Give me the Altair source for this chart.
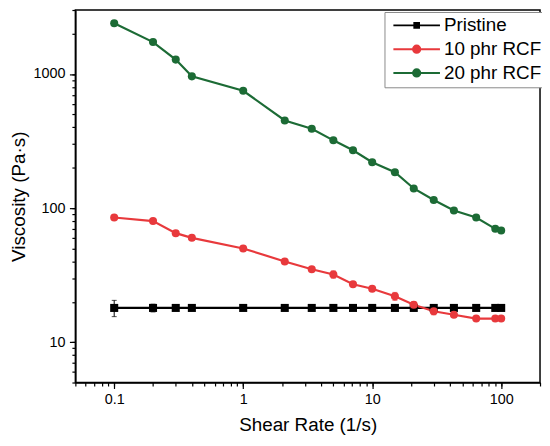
import altair as alt
import pandas as pd

# ---- data ----
shear_rate = [0.1, 0.2, 0.3, 0.4, 1, 2.1, 3.4, 5, 7.1, 10, 15, 21, 30, 43, 64, 90, 100]
pristine = [18, 18, 18, 18, 18, 18, 18, 18, 18, 18, 18, 18, 18, 18, 18, 18, 18]
pristine_err = [2.5, 1.2, 0.5, 0.5, 0.5, 0.5, 0.5, 0.5, 0.5, 0.5, 0.5, 0.5, 0.5, 0.5, 0.5, 0.5, 0.5]
rcf10 = [85, 80, 65, 60, 50, 40, 35, 32, 27, 25, 22, 19, 17, 16, 15, 15, 15]
rcf10_err = [2, 2, 2, 2, 2, 1, 1, 2, 1, 1, 1.5, 1, 1, 0.5, 0.5, 0.5, 0.5]
rcf20 = [2390, 1730, 1280, 960, 750, 450, 390, 320, 270, 220, 185, 140, 115, 96, 85, 70, 68]
rcf20_err = [50, 40, 30, 20, 20, 10, 10, 10, 5, 5, 5, 5, 3, 2, 2, 2, 2]

series_names = ["Pristine", "10 phr RCF", "20 phr RCF"]
series_colors = ["#000000", "#e8393c", "#1c6b35"]

x_major = [0.1, 1, 10, 100]
x_all = [0.05, 0.06, 0.07, 0.08, 0.09, 0.1, 0.2, 0.3, 0.4, 0.5, 0.6, 0.7, 0.8, 0.9,
         1, 2, 3, 4, 5, 6, 7, 8, 9, 10, 20, 30, 40, 50, 60, 70, 80, 90, 100, 200]
y_major = [10, 100, 1000]
y_all = [5, 6, 7, 8, 9, 10, 20, 30, 40, 50, 60, 70, 80, 90,
         100, 200, 300, 400, 500, 600, 700, 800, 900, 1000, 2000, 3000]

rows = []
for name, vals, errs in zip(series_names, [pristine, rcf10, rcf20],
                            [pristine_err, rcf10_err, rcf20_err]):
    for xv, yv, ev in zip(shear_rate, vals, errs):
        rows.append({"x": xv, "y": yv, "lo": yv - ev, "hi": yv + ev, "series": name})
df = pd.DataFrame(rows)

FONT = "Liberation Sans"
Y_TITLE = "Viscosity (Pa·s)"
X_TITLE = "Shear Rate (1/s)"

x_major_js = "[" + ",".join(str(v) for v in x_major) + "]"
y_major_js = "[" + ",".join(str(v) for v in y_major) + "]"

x_scale = alt.Scale(type="log", domain=[0.05, 200], nice=False)
y_scale = alt.Scale(type="log", domain=[5, 3000], nice=False)

# main axes: every tick (short), labels at decades only
x_axis_main = alt.Axis(
    title=X_TITLE, values=x_all, format="~g", orient="bottom",
    labelExpr=f"indexof({x_major_js}, datum.value) >= 0 ? datum.label : ''",
    tickSize=3.5, labelPadding=7, titlePadding=9,
)
y_axis_main = alt.Axis(
    title=Y_TITLE, values=y_all, format="~g", orient="left",
    labelExpr=f"indexof({y_major_js}, datum.value) >= 0 ? datum.label : ''",
    tickSize=3.5, labelPadding=7, titlePadding=5,
)
# extra axes: longer ticks at the decades
x_axis_dec = alt.Axis(title="", values=x_major, orient="bottom", labels=False,
                      tickSize=6, domain=False)
y_axis_dec = alt.Axis(title="", values=y_major, orient="left", labels=False,
                      tickSize=6, domain=False)

circle_path = "M-4.7,0L4.7,0M0.73,0A0.73,0.73,0,1,1,-0.73,0A0.73,0.73,0,1,1,0.73,0Z"
square_path = "M-4.7,0L4.7,0M-0.47,-0.47L0.47,-0.47L0.47,0.47L-0.47,0.47Z"

color_scale = alt.Scale(domain=series_names, range=series_colors)
legend = alt.Legend(
    title=None, orient="none", legendX=312, legendY=2,
    symbolType={"expr": f"datum.value === 'Pristine' ? '{square_path}' : '{circle_path}'"},
    symbolFillColor={"expr": "scale('color', datum.value)"},
    symbolStrokeColor={"expr": "scale('color', datum.value)"},
    symbolSize=100, symbolOffset=19, symbolStrokeWidth=2, symbolOpacity=1,
    labelFontSize=19, labelFont=FONT, labelColor="black", labelOffset=18,
    rowPadding=4, padding=4, strokeColor="#8a8a8a", fillColor="white",
)
color_enc = alt.Color("series:N", scale=color_scale, legend=legend)

base = alt.Chart(df)

errbars = base.mark_errorbar(ticks=True, thickness=1).encode(
    x=alt.X("x:Q", scale=x_scale, axis=None),
    y=alt.Y("lo:Q", scale=y_scale, axis=None), y2="hi:Q",
    color=color_enc,
)

lines = base.mark_line(strokeWidth=2.2).encode(
    x=alt.X("x:Q", scale=x_scale, axis=x_axis_main),
    y=alt.Y("y:Q", scale=y_scale, axis=y_axis_main),
    color=color_enc,
)

squares = base.transform_filter(alt.datum.series == "Pristine").mark_square(
    size=66, opacity=1
).encode(
    x=alt.X("x:Q", scale=x_scale, axis=None),
    y=alt.Y("y:Q", scale=y_scale, axis=None),
    color=color_enc,
)

circles = base.transform_filter(alt.datum.series != "Pristine").mark_circle(
    size=66, opacity=1
).encode(
    x=alt.X("x:Q", scale=x_scale, axis=x_axis_dec),
    y=alt.Y("y:Q", scale=y_scale, axis=y_axis_dec),
    color=color_enc,
)

chart = (
    alt.layer(errbars, lines, squares, circles)
    .resolve_axis(x="independent", y="independent")
    .properties(
        width=469, height=376,
        autosize=alt.AutoSizeParams(type="none"),
        padding={"left": 68, "top": 0, "right": 2, "bottom": 58},
    )
    .configure_view(stroke="black", strokeWidth=1.5)
    .configure_axis(
        grid=False, domainColor="black", domainWidth=1.5, tickColor="black", tickWidth=1.2,
        labelFont=FONT, titleFont=FONT, labelFontSize=14.5, titleFontSize=19,
        labelColor="black", titleColor="black", titleFontWeight="normal",
    )
)

chart.save("out.html", embed_options={"renderer": "svg", "actions": False})
